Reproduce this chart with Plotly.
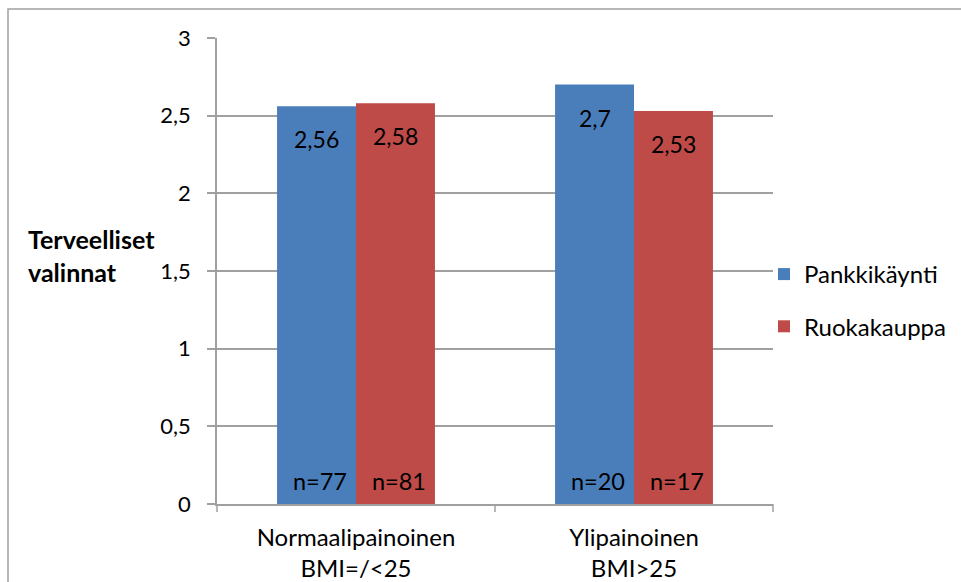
import plotly.graph_objects as go

categories = ["Normaalipainoinen<br>BMI=/<25", "Ylipainoinen<br>BMI>25"]
series_names = ["Pankkikäynti", "Ruokakauppa"]
pankki_values = [2.56, 2.70]
ruoka_values = [2.58, 2.53]
pankki_n = [77, 20]
ruoka_n = [81, 17]
y_ticks = [0, 0.5, 1, 1.5, 2, 2.5, 3]
y_tick_labels = ["0", "0,5", "1", "1,5", "2", "2,5", "3"]
y_title = "Terveelliset<br>valinnat"

colors = ["#4A7EBB", "#BE4B48"]
FONT = "Lato"
FS = 22

W, H = 961, 582
L, R, T, B = 217, 773, 38, 504

fig = go.Figure()
series = [pankki_values, ruoka_values]
counts = [pankki_n, ruoka_n]
for i, name in enumerate(series_names):
    fig.add_trace(go.Bar(
        x=categories, y=series[i], name=name,
        marker=dict(color=colors[i], line=dict(width=0)),
        legendgroup=name,
    ))

def fmt(v):
    return f"{v:g}".replace(".", ",")

annotations = []
offsets = [-39.5, 39.5]
for i in range(2):
    for j, c in enumerate(categories):
        annotations.append(dict(
            x=c, y=series[i][j], xref="x", yref="y", text=fmt(series[i][j]),
            showarrow=False, xshift=offsets[i], yshift=-33, yanchor="middle",
            font=dict(family=FONT, size=23, color="black")))
        annotations.append(dict(
            x=c, y=0, xref="x", yref="y", text=f"n={counts[i][j]}",
            showarrow=False, xshift=offsets[i] + 3, yshift=23, yanchor="middle",
            font=dict(family=FONT, size=23.5, color="black")))

pw = R - L
ph = B - T
annotations.append(dict(
    x=(26 - L) / pw, y=(B - 255) / ph, xref="paper", yref="paper",
    text="<b>" + y_title + "</b>", showarrow=False, xanchor="left", yanchor="middle",
    align="left", font=dict(family=FONT, size=25, color="black")))

fig.update_layout(
    width=W, height=H, autosize=False,
    margin=dict(l=L, r=W - R, t=T, b=H - B, pad=0, autoexpand=False),
    paper_bgcolor="white", plot_bgcolor="white",
    font=dict(family=FONT, size=FS, color="black"),
    barmode="group", bargap=0.432, bargroupgap=0,
    showlegend=True,
    legend=dict(x=(764 - L) / pw, xanchor="left", y=(B - 252) / ph, yanchor="top",
                traceorder="grouped", tracegroupgap=18,
                font=dict(family=FONT, size=24, color="black"),
                itemwidth=30, bgcolor="rgba(0,0,0,0)"),
    annotations=annotations,
    shapes=[dict(type="rect", xref="paper", yref="paper",
                 x0=(8 - L) / pw, x1=(970 - L) / pw,
                 y0=(B - 600) / ph, y1=(B - 9) / ph,
                 line=dict(color="#A0A0A0", width=1.5), fillcolor="rgba(0,0,0,0)",
                 layer="below")],
)
fig.update_xaxes(
    showgrid=False, showline=True, linecolor="#A0A0A0", linewidth=1.5,
    ticks="", tickfont=dict(family=FONT, size=24, color="black"),
    ticklabelstandoff=11, automargin=False,
)
fig.update_yaxes(
    range=[0, 3], tickvals=y_ticks, ticktext=y_tick_labels,
    showgrid=True, gridcolor="#A0A0A0", gridwidth=1.5,
    showline=True, linecolor="#A0A0A0", linewidth=1.5,
    ticks="outside", ticklen=8, tickcolor="#A0A0A0", tickwidth=1.5,
    tickfont=dict(family=FONT, size=FS, color="black"),
    ticklabelstandoff=12, automargin=False,
    zeroline=False,
)
# category boundary tick marks below the x axis
for k in range(3):
    fig.add_shape(type="line", xref="paper", yref="paper",
                  x0=k / 2, x1=k / 2, y0=0, y1=-8 / ph,
                  line=dict(color="#A0A0A0", width=1.5))

fig.write_html("out.html", config={"displayModeBar": False},
               post_script="document.body.style.margin='0px';document.body.style.padding='0px';")
